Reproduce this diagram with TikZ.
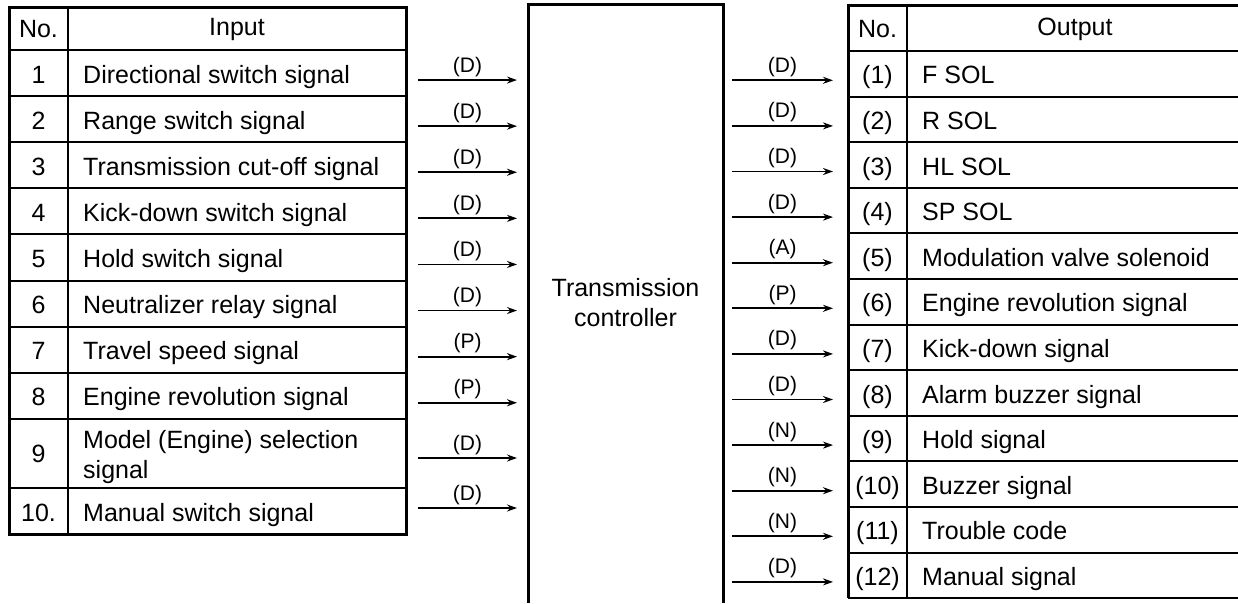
\documentclass[tikz,border=0pt]{standalone}
\usepackage{fontspec}
\setmainfont{Liberation Sans}
\usetikzlibrary{arrows.meta}
\begin{document}
\begin{tikzpicture}[x=1pt,y=-1pt,
  txt/.style={font=\fontsize{25}{30}\selectfont, inner sep=0pt},
  lbl/.style={font=\fontsize{21}{24}\selectfont, inner sep=0pt},
  outer/.style={line width=3pt},
  inner/.style={line width=2pt},
  sig/.style={line width=1.8pt, -{Stealth[length=10pt,width=7pt]}},
]
\useasboundingbox[fill=white] (0,0) rectangle (1238,603);

% ---------------- input table ----------------
\foreach \k in {0,...,8} {\draw[inner] (9,{50+\k*46.1}) -- (406,{50+\k*46.1});}
\draw[inner] (9,488) -- (406,488);
\draw[inner] (68,7) -- (68,534);
\draw[outer] (9,7) rectangle (406,534);
\node[txt] (inhno) at (38.5,29) {No.};
\node[txt] (inhtx) at (237,29) {Input};

\foreach \k/\t/\s in {1/Directional switch signal/D,
                     2/Range switch signal/D,
                     3/Transmission cut-off signal/D,
                     4/Kick-down switch signal/D,
                     5/Hold switch signal/D,
                     6/Neutralizer relay signal/D,
                     7/Travel speed signal/P,
                     8/Engine revolution signal/P} {
  \pgfmathsetmacro\yc{50+(\k-0.5)*46.1}
  \node[txt, anchor=base] (inno\k) at (38.5,\yc+10) {\k};
  \node[txt, anchor=base west] (intx\k) at (83,\yc+10) {\t};
  \coordinate (ia\k) at (418,\yc+7);
  \coordinate (ib\k) at (517,\yc+7);
  \draw[sig] (ia\k) -- node[lbl, anchor=base, yshift=8pt] (inlb\k) {(\s)} (ib\k);
}
% row 9
\node[txt] (inno9) at (38.5,453.5) {9};
\node[txt, anchor=base west] (intx9a) at (83,448) {Model (Engine) selection};
\node[txt, anchor=base west] (intx9b) at (83,478) {signal};
\coordinate (ia9) at (418,458);
\coordinate (ib9) at (517,458);
\draw[sig] (ia9) -- node[lbl, anchor=base, yshift=8pt] (inlb9) {(D)} (ib9);
% row 10
\node[txt, anchor=base] (inno10) at (38.5,521) {10.};
\node[txt, anchor=base west] (intx10) at (83,521) {Manual switch signal};
\coordinate (ia10) at (418,508);
\coordinate (ib10) at (517,508);
\draw[sig] (ia10) -- node[lbl, anchor=base, yshift=8pt] (inlb10) {(D)} (ib10);

% ---------------- controller ----------------
\draw[outer] (528,603) -- (528,4) -- (723,4) -- (723,603);
\node[txt, align=center] (ctrl) at (625.5,303) {Transmission\\controller};

% ---------------- output table ----------------
\foreach \k in {0,...,11} {\draw[inner] (848,{51+\k*45.6}) -- (1238,{51+\k*45.6});}
\draw[line width=1.2pt] (848,598) -- (1238,598);
\draw[inner] (907,5) -- (907,598);
\draw[outer] (1238,5) -- (848,5) -- (848,598);
\node[txt] (outhno) at (877.5,29) {No.};
\node[txt] (outhtx) at (1075,29) {Output};

\foreach \k/\t/\s in {1/F SOL/D,
                     2/R SOL/D,
                     3/HL SOL/D,
                     4/SP SOL/D,
                     5/Modulation valve solenoid/A,
                     6/Engine revolution signal/P,
                     7/Kick-down signal/D,
                     8/Alarm buzzer signal/D,
                     9/Hold signal/N,
                     10/Buzzer signal/N,
                     11/Trouble code/N,
                     12/Manual signal/D} {
  \pgfmathsetmacro\yc{51+(\k-0.5)*45.6}
  \node[txt, anchor=base] (outno\k) at (877.5,\yc+10) {(\k)};
  \node[txt, anchor=base west] (outtx\k) at (922,\yc+10) {\t};
  \coordinate (oa\k) at (732,\yc+6.5);
  \coordinate (ob\k) at (833,\yc+6.5);
  \draw[sig] (oa\k) -- node[lbl, anchor=base, yshift=8pt] (outlb\k) {(\s)} (ob\k);
}
\end{tikzpicture}
\end{document}
